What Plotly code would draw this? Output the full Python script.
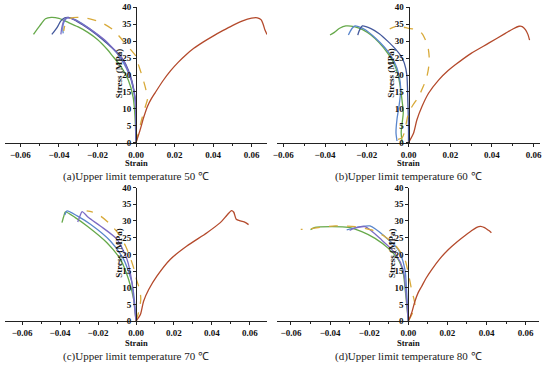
import plotly.graph_objects as go

# ---------------- data (strain, stress in MPa) ----------------
STRAIN_TICKS = [-0.06, -0.04, -0.02, 0.0, 0.02, 0.04, 0.06]
STRESS_TICKS = [0, 5, 10, 15, 20, 25, 30, 35, 40]
CAPTIONS = ["(a)Upper limit temperature 50 \u2103", "(b)Upper limit temperature 60 \u2103",
            "(c)Upper limit temperature 70 \u2103", "(d)Upper limit temperature 80 \u2103"]

# Panel (a) 50 C
A_GREEN_X = [0, -0.0003, -0.0008, -0.0015, -0.004, -0.008, -0.012, -0.015, -0.02, -0.025, -0.03, -0.035, -0.04, -0.044, -0.047, -0.05, -0.0532]
A_GREEN_Y = [0, 5, 10, 13.5, 18.5, 22.7, 25.5, 27.6, 30.5, 32.6, 34.2, 35.5, 36.7, 37.0, 36.6, 34.5, 32.0]
A_BLUE_X = [0, 0, -0.0005, -0.0025, -0.005, -0.008, -0.012, -0.017, -0.022, -0.027, -0.031, -0.0345, -0.036, -0.0375, -0.038, -0.0378]
A_BLUE_Y = [0, 7, 13, 18.5, 22, 25, 27.8, 30.5, 32.8, 34.8, 36.2, 36.9, 36.8, 35.5, 34, 32.3]
A_DKBLUE_X = [0, 0, -0.0003, -0.002, -0.004, -0.0065, -0.01, -0.0135, -0.018, -0.023, -0.028, -0.032, -0.035, -0.037, -0.039, -0.041, -0.0437]
A_DKBLUE_Y = [0, 6, 12.5, 18, 21.5, 24.4, 26.8, 28.6, 30.8, 33, 34.9, 36.3, 37, 36.9, 36, 34, 32]
A_PURPLE_X = [0, 0, -0.0004, -0.0022, -0.0045, -0.007, -0.011, -0.015, -0.02, -0.025, -0.03, -0.034, -0.036, -0.0375, -0.0385, -0.039]
A_PURPLE_Y = [0, 6.5, 12.7, 18.2, 21.8, 24.7, 27.3, 29.7, 32, 34, 35.8, 36.8, 36.9, 36, 34, 32]
A_DASH_X = [0, 0.003, 0.005, 0.006, 0.005, 0.003, 0.001, 0, -0.002, -0.005, -0.008, -0.012, -0.018, -0.024, -0.03, -0.034, -0.036, -0.037, -0.0375]
A_DASH_Y = [0, 7, 11, 13, 16, 20, 23.5, 25.5, 27, 28.8, 31, 33.4, 35.5, 36.6, 37, 36.8, 36, 34.5, 33]
A_RED_X = [0, 0.002, 0.004, 0.006, 0.008, 0.01, 0.014, 0.018, 0.022, 0.026, 0.03, 0.035, 0.04, 0.045, 0.05, 0.055, 0.06, 0.063, 0.065, 0.066, 0.067, 0.068]
A_RED_Y = [0, 3.5, 7.5, 10.8, 13, 14.8, 18.3, 21.3, 23.8, 26, 27.9, 29.8, 31.5, 33.1, 34.6, 35.9, 36.8, 36.9, 36.3, 35, 33.2, 32]

# Panel (b) 60 C
B_GREEN_X = [-0.003, -0.0035, -0.003, -0.0025, -0.003, -0.0038, -0.005, -0.007, -0.01, -0.014, -0.018, -0.022, -0.026, -0.03, -0.033, -0.0355, -0.0376]
B_GREEN_Y = [0, 3, 6, 9, 12, 16, 20, 23.5, 26.5, 29.5, 31.8, 33.4, 34.3, 34.5, 33.8, 32.6, 31.8]
B_BLUE_X = [-0.0055, -0.006, -0.0055, -0.0045, -0.0038, -0.004, -0.0055, -0.008, -0.0115, -0.016, -0.0205, -0.024, -0.0256, -0.027, -0.028, -0.0288]
B_BLUE_Y = [0.5, 3, 7, 11, 15, 18, 22, 25.3, 28.2, 31, 33.3, 34.3, 34.5, 33.8, 32.8, 31.8]
B_DKBLUE_X = [0, 0, -0.0003, -0.0008, -0.002, -0.0035, -0.006, -0.01, -0.014, -0.018, -0.0221, -0.023, -0.0238, -0.0243]
B_DKBLUE_Y = [0, 5, 12, 20, 23.5, 25.5, 27.5, 30, 32.2, 33.7, 34.5, 33.8, 32.8, 31.8]
B_DASH_X = [-0.005, -0.003, -0.002, -0.001, 0, 0.002, 0.0048, 0.007, 0.0088, 0.0097, 0.0099, 0.0093, 0.0078, 0.0064, 0.0032, 0, -0.003, -0.006, -0.009]
B_DASH_Y = [1, 1.5, 3, 6, 8.7, 11, 13.6, 16.5, 19.5, 22.5, 25.4, 28.4, 30.8, 32.3, 33.5, 33.8, 34.2, 34.3, 33.6]
B_RED_X = [0, 0.0024, 0.004, 0.0064, 0.0096, 0.0144, 0.019, 0.0224, 0.03, 0.0384, 0.0464, 0.05, 0.053, 0.0545, 0.056, 0.0572, 0.058]
B_RED_Y = [0, 2.8, 6.7, 10.6, 14.6, 18.5, 21.3, 23, 26.4, 29.4, 32.3, 33.6, 34.4, 34.3, 33.4, 32, 30.3]

# Panel (c) 70 C
C_GREEN_X = [0, -0.0012, -0.0039, -0.0082, -0.0153, -0.0258, -0.032, -0.0372, -0.038, -0.039]
C_GREEN_Y = [0, 6.5, 12.5, 18.5, 23.5, 28.5, 31, 32.7, 31.5, 29.5]
C_BLUE_X = [0, -0.0008, -0.0021, -0.0065, -0.0135, -0.024, -0.031, -0.0363, -0.037, -0.0375]
C_BLUE_Y = [0, 6, 11.5, 18.5, 24, 29, 31.5, 33, 32.5, 31.8]
C_PURPLE_X = [0, -0.0012, -0.0021, -0.0047, -0.01, -0.0188, -0.025, -0.0284, -0.0295, -0.0307]
C_PURPLE_Y = [0, 6.5, 11.5, 18.5, 24.5, 28.5, 31, 32.8, 31.5, 29.7]
C_DASH_X = [0, 0.0015, 0.0025, 0.002, 0.0005, -0.001, -0.003, -0.0055, -0.009, -0.0135, -0.0188, -0.0232, -0.026]
C_DASH_Y = [0, 3, 6.5, 9.5, 12, 15.5, 19, 22.5, 26, 29, 31.5, 32.7, 33]
C_RED_X = [0, 0.0023, 0.004, 0.0067, 0.011, 0.018, 0.0268, 0.0374, 0.0444, 0.048, 0.0503, 0.0515, 0.0528, 0.055, 0.0575, 0.0593]
C_RED_Y = [0, 2, 6, 9.5, 13.5, 18.5, 22.5, 26.5, 29.5, 31.8, 33.1, 32.6, 30.5, 30.0, 29.6, 28.9]

# Panel (d) 80 C
D_GREEN_X = [0, -0.0014, -0.0026, -0.0051, -0.0102, -0.017, -0.0238, -0.0306, -0.039, -0.0477, -0.05]
D_GREEN_Y = [0, 8.4, 14.4, 18.4, 21.8, 24.8, 26.8, 28.1, 28.3, 28.1, 27.4]
D_BLUE_X = [0, -0.0009, -0.0017, -0.0051, -0.0119, -0.0196, -0.025, -0.0315]
D_BLUE_Y = [0, 9.4, 15.4, 21.4, 25.3, 28.5, 28.2, 27.3]
D_PURPLE_X = [0, -0.0012, -0.0026, -0.0068, -0.0136, -0.0221, -0.027, -0.03]
D_PURPLE_Y = [0, 8.5, 15.4, 20.4, 24.3, 28.3, 27.9, 27.2]
D_DASH_X = [0, 0.0034, 0.0017, 0, -0.0017, -0.006, -0.0119, -0.0187, -0.0272, -0.0374, -0.046, -0.0528, -0.055]
D_DASH_Y = [0, 4.5, 9.4, 14.4, 18.4, 22.3, 25.3, 27.3, 28.3, 28.5, 28, 27.5, 27.5]
D_RED_X = [0, 0.0017, 0.0034, 0.005, 0.0068, 0.009, 0.0119, 0.016, 0.0204, 0.025, 0.0289, 0.032, 0.035, 0.037, 0.039, 0.041, 0.0425]
D_RED_Y = [0, 2.5, 6, 8.5, 10.4, 12.8, 15.4, 18.6, 21.4, 23.8, 25.6, 26.9, 28.1, 28.4, 28, 27.2, 26.5]

# ---------------- styling ----------------
W, H = 550, 366
COLORS = {"green": "#66a94a", "blue": "#5a86cc", "dkblue": "#43589c", "purple": "#7c6cc4",
          "dash": "#d8aa3a", "red": "#b44a2c"}
SERIF = "Liberation Serif, Times New Roman, serif"


def pxx(px):
    return min(max(px / W, 0.0), 1.0)


def pxy(py):
    return min(max(1 - py / H, 0.0), 1.0)


panels = [
    dict(curves=[("green", A_GREEN_X, A_GREEN_Y), ("blue", A_BLUE_X, A_BLUE_Y), ("dkblue", A_DKBLUE_X, A_DKBLUE_Y),
                 ("purple", A_PURPLE_X, A_PURPLE_Y), ("dash", A_DASH_X, A_DASH_Y), ("red", A_RED_X, A_RED_Y)],
         xdom=(5, 267), ytop=7.3, ybot=142.7, xr=0.068, strain_y=163, cap_y=176),
    dict(curves=[("green", B_GREEN_X, B_GREEN_Y), ("blue", B_BLUE_X, B_BLUE_Y), ("dkblue", B_DKBLUE_X, B_DKBLUE_Y),
                 ("dash", B_DASH_X, B_DASH_Y), ("red", B_RED_X, B_RED_Y)],
         xdom=(277, 540), ytop=7.3, ybot=142.7, xr=0.063, strain_y=163, cap_y=176),
    dict(curves=[("green", C_GREEN_X, C_GREEN_Y), ("blue", C_BLUE_X, C_BLUE_Y), ("purple", C_PURPLE_X, C_PURPLE_Y),
                 ("dash", C_DASH_X, C_DASH_Y), ("red", C_RED_X, C_RED_Y)],
         xdom=(5, 267), ytop=187.5, ybot=321.3, xr=0.069, strain_y=343, cap_y=356),
    dict(curves=[("green", D_GREEN_X, D_GREEN_Y), ("blue", D_BLUE_X, D_BLUE_Y), ("purple", D_PURPLE_X, D_PURPLE_Y),
                 ("dash", D_DASH_X, D_DASH_Y), ("red", D_RED_X, D_RED_Y)],
         xdom=(277.3, 539.3), ytop=187.5, ybot=321.3, xr=0.067, strain_y=343, cap_y=356),
]

fig = go.Figure()
layout = dict(width=W, height=H, margin=dict(l=0, r=0, t=0, b=0, autoexpand=False), showlegend=False,
              paper_bgcolor="white", plot_bgcolor="rgba(0,0,0,0)")
annotations = []
tickfont = dict(family=SERIF, size=9, color="#111111", weight="bold")

for i, p in enumerate(panels):
    n = i + 1
    xa = "x" if n == 1 else f"x{n}"
    ya = "y" if n == 1 else f"y{n}"
    for key, xs, ys in p["curves"]:
        dash = "dash" if key == "dash" else "solid"
        fig.add_trace(go.Scatter(x=xs, y=ys, mode="lines", xaxis=xa, yaxis=ya,
                                 line=dict(color=COLORS[key], width=1.3, dash=dash, shape="spline", smoothing=0.7),
                                 hoverinfo="skip"))
    p0, p1 = p["xdom"]
    pc = (p0 + p1) / 2
    x0, x1 = pxx(p0), pxx(p1)
    y0, y1 = pxy(p["ybot"]), pxy(p["ytop"])
    xc = pxx(pc)
    layout["xaxis" if n == 1 else f"xaxis{n}"] = dict(
        domain=[x0, x1], range=[-p["xr"], p["xr"]], anchor=ya, showgrid=False, zeroline=False,
        automargin=False,
        showline=True, linecolor="#222", linewidth=1, ticks="outside", ticklen=3, tickcolor="#222",
        tickvals=STRAIN_TICKS, tickformat=".2f", tickfont=tickfont,
        minor=dict(dtick=0.01, ticks="outside", ticklen=2, tickcolor="#222"))
    layout["yaxis" if n == 1 else f"yaxis{n}"] = dict(
        domain=[y0, y1], range=[0, 40], anchor="free", position=xc, showgrid=False, zeroline=False,
        automargin=False,
        showline=True, linecolor="#222", linewidth=1, ticks="outside", ticklen=3, tickcolor="#222",
        tickvals=STRESS_TICKS, tickfont=tickfont)
    annotations.append(dict(text="Stress (MPa)", xref="paper", yref=ya, x=xc, xshift=-17, y=20.5,
                            textangle=-90, showarrow=False, xanchor="center", yanchor="middle",
                            font=dict(family=SERIF, size=9, color="#111", weight="bold")))
    annotations.append(dict(text="Strain", xref="paper", yref="paper", x=xc, y=pxy(p["strain_y"]),
                            showarrow=False, xanchor="center", yanchor="middle",
                            font=dict(family=SERIF, size=8.5, color="#111", weight="bold")))
    annotations.append(dict(text=CAPTIONS[i], xref="paper", yref="paper", x=xc, y=pxy(p["cap_y"]),
                            showarrow=False, xanchor="center", yanchor="middle",
                            font=dict(family=SERIF, size=11, color="#222")))

layout["annotations"] = annotations
fig.update_layout(**layout)
fig.write_html("out.html", config={"displayModeBar": False},
               post_script="document.body.style.margin='0px';document.body.style.overflow='hidden';")
